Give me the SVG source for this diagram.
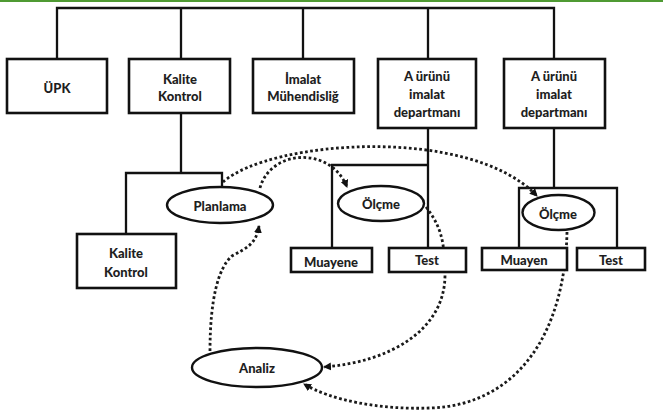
<svg xmlns="http://www.w3.org/2000/svg" width="663" height="415" viewBox="0 0 663 415">
  <style>
    .box { fill: #ffffff; stroke: #111111; stroke-width: 2.6; }
    .oval { fill: #ffffff; stroke: #111111; stroke-width: 2.4; }
    .wire { fill: none; stroke: #111111; stroke-width: 2.3; }
    .dots { fill: none; stroke: #1a1a1a; stroke-width: 2.8; stroke-dasharray: 2.7 2.5; }
    text { font-family: Lato, "Open Sans", "Liberation Sans", sans-serif; font-weight: 900; font-size: 13px; fill: #1e1e1e; text-anchor: middle; }
  </style>
  <defs>
    <marker id="arrow" viewBox="0 0 8 8" refX="7" refY="4" markerWidth="8" markerHeight="8" markerUnits="userSpaceOnUse" orient="auto">
      <path d="M0,0 L8,4 L0,8 z" fill="#111111"/>
    </marker>
  </defs>

  <rect width="663" height="415" fill="#ffffff"/>
  <!-- top rule -->
  <rect x="0" y="0" width="663" height="2" fill="#4f9a33"/>

  <g id="connectors">
    <!-- top-level bus -->
    <path class="wire" d="M57,59 V8 H554 V59 M181,8 V59 M303,8 V59 M428,8 V59"/>
    <!-- Kalite Kontrol bracket -->
    <path class="wire" d="M181,113 V173 M126,234 V173 H222 V188"/>
    <!-- first A ürünü bracket -->
    <path class="wire" d="M428,128 V248 M332,248 V165 H428"/>
    <!-- second A ürünü bracket -->
    <path class="wire" d="M554,128 V188 M519,248 V188 H617 V248"/>

    <!-- dotted flows -->
    <path class="dots" d="M223,182 C270,140 470,125 537,196" marker-end="url(#arrow)"/>
    <path class="dots" d="M260,188 C270,150 330,145 347,187" marker-end="url(#arrow)"/>
    <path class="dots" d="M210,351 C210,300 218,268 232,256 C246,248 256,245 259,226" marker-end="url(#arrow)"/>
    <path class="dots" d="M426,207 C440,225 445,240 445,275 C445,330 390,362 324,367" marker-end="url(#arrow)"/>
    <path class="dots" d="M567,232 C565,330 520,405 430,408 C380,410 330,400 304,384" marker-end="url(#arrow)"/>
  </g>

  <g id="upk">
    <rect class="box" x="7" y="59" width="100" height="54"/>
    <text x="57" y="93">ÜPK</text>
  </g>
  <g id="kalite-kontrol">
    <rect class="box" x="129" y="59" width="101" height="54"/>
    <text x="180" y="84">Kalite</text>
    <text x="180" y="101">Kontrol</text>
  </g>
  <g id="imalat-muhendisligi">
    <rect class="box" x="253" y="59" width="101" height="54"/>
    <text x="303" y="84">İmalat</text>
    <text x="303" y="101">Mühendisliğ</text>
  </g>
  <g id="a-urunu-1">
    <rect class="box" x="378" y="59" width="98" height="69"/>
    <text x="427" y="81">A ürünü</text>
    <text x="427" y="99">imalat</text>
    <text x="427" y="117">departmanı</text>
  </g>
  <g id="a-urunu-2">
    <rect class="box" x="504" y="59" width="101" height="69"/>
    <text x="554" y="81">A ürünü</text>
    <text x="554" y="99">imalat</text>
    <text x="554" y="117">departmanı</text>
  </g>

  <g id="planlama">
    <ellipse class="oval" cx="220" cy="205" rx="53" ry="18"/>
    <text x="220" y="211">Planlama</text>
  </g>
  <g id="kalite-kontrol-2">
    <rect class="box" x="77" y="234" width="99" height="54"/>
    <text x="126" y="258">Kalite</text>
    <text x="126" y="277">Kontrol</text>
  </g>

  <g id="olcme-1">
    <ellipse class="oval" cx="381" cy="203.5" rx="43" ry="17.5"/>
    <text x="381" y="209">Ölçme</text>
  </g>
  <g id="muayene-1">
    <rect class="box" x="291" y="248" width="81" height="24"/>
    <text x="331" y="267">Muayene</text>
  </g>
  <g id="test-1">
    <rect class="box" x="389" y="248" width="77" height="24"/>
    <text x="427" y="265">Test</text>
  </g>

  <g id="olcme-2">
    <ellipse class="oval" cx="558.5" cy="212.5" rx="36" ry="17.5"/>
    <text x="558" y="219">Ölçme</text>
  </g>
  <g id="muayen-2">
    <rect class="box" x="482" y="248" width="85" height="22"/>
    <text x="524" y="265">Muayen</text>
  </g>
  <g id="test-2">
    <rect class="box" x="577" y="248" width="68" height="22"/>
    <text x="611" y="265">Test</text>
  </g>

  <g id="analiz">
    <ellipse class="oval" cx="257" cy="367.5" rx="65" ry="19.5"/>
    <text x="257" y="373">Analiz</text>
  </g>
</svg>
